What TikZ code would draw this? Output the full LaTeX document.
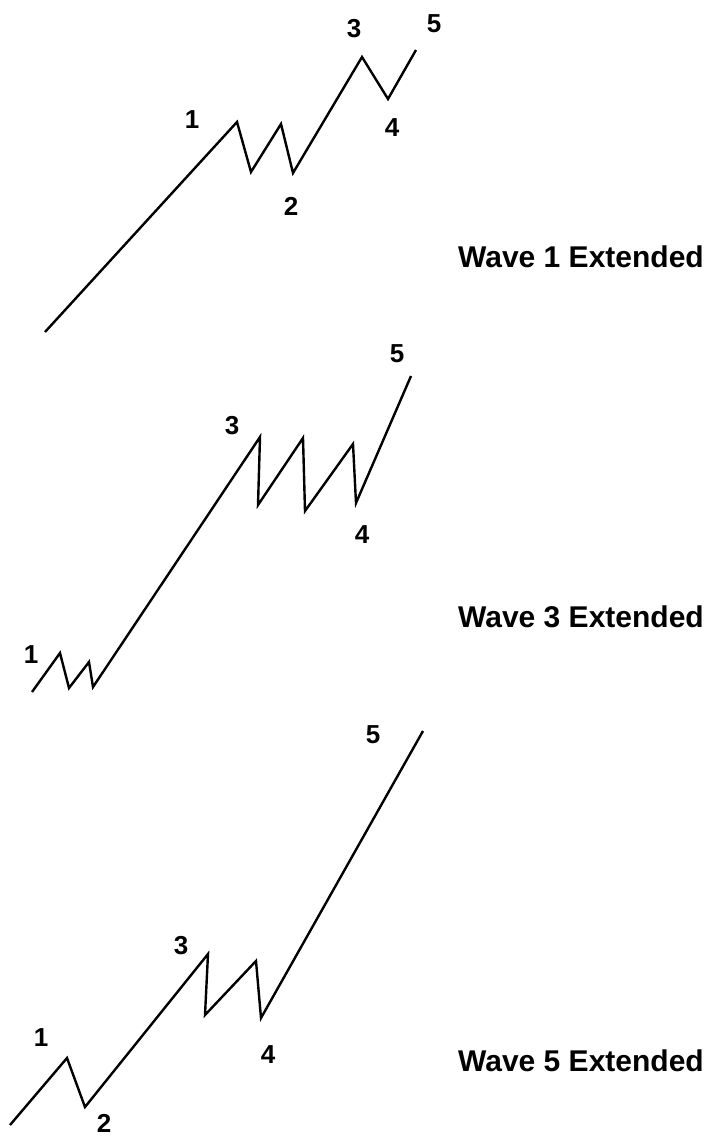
\documentclass[tikz,border=0pt]{standalone}
\usepackage{fontspec}
\setmainfont{Liberation Sans}
\usepackage{tikz}
\usetikzlibrary{positioning}

\tikzset{
    wave/.style={line width=2.4pt,line join=miter},
    num/.style={font=\fontsize{26}{26}\selectfont\bfseries,inner sep=0pt},
    caption/.style={font=\fontsize{30}{30}\selectfont\bfseries,inner sep=0pt,anchor=east}
}

\begin{document}
\begin{tikzpicture}[x=1pt,y=-1pt]
\useasboundingbox (0,0) rectangle (710,1139);
% Wave 1 extended
\foreach \px/\py [count=\i] in {45/332,237/122,251/172,281/124,293/173,362/57,388/99,416/50}
    \coordinate (a\i) at (\px,\py);
\draw[wave] (a1) \foreach \i in {2,...,8} {-- (a\i)};
\node[num] (a1l) at (192,120) {1};
\node[num] (a2l) at (291,206) {2};
\node[num] (a3l) at (354,29) {3};
\node[num] (a4l) at (392,128) {4};
\node[num] (a5l) at (434,24) {5};
\node[caption] (acap) at (704,257) {Wave 1 Extended};
% Wave 3 extended
\foreach \px/\py [count=\i] in {32/692,60/653,69/688,89/662,93/687,260/437,258/505,303/438,305/511,353/444,356/503,411/376}
    \coordinate (b\i) at (\px,\py);
\draw[wave] (b1) \foreach \i in {2,...,12} {-- (b\i)};
\node[num] (b1l) at (31,655) {1};
\node[num] (b3l) at (232,426) {3};
\node[num] (b4l) at (362,535) {4};
\node[num] (b5l) at (397,354) {5};
\node[caption] (bcap) at (704,617) {Wave 3 Extended};
% Wave 5 extended
\foreach \px/\py [count=\i] in {10/1125,67/1058,85/1107,208/954,205/1015,256/961,261/1018,423/731}
    \coordinate (c\i) at (\px,\py);
\draw[wave] (c1) \foreach \i in {2,...,8} {-- (c\i)};
\node[num] (c1l) at (41,1038) {1};
\node[num] (c2l) at (104,1123) {2};
\node[num] (c3l) at (181,946) {3};
\node[num] (c4l) at (268,1055) {4};
\node[num] (c5l) at (373,735) {5};
\node[caption] (ccap) at (704,1061) {Wave 5 Extended};
\end{tikzpicture}
\end{document}
